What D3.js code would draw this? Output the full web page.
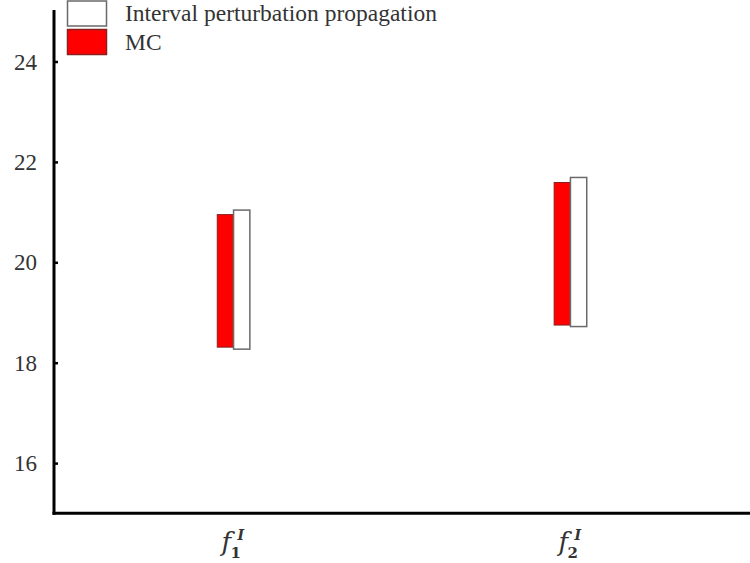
<!DOCTYPE html>
<html>
<head>
<meta charset="utf-8">
<script src="https://cdn.jsdelivr.net/npm/d3@7"></script>
<style>
  html, body { margin: 0; padding: 0; background: #fff; }
  svg { display: block; }
</style>
</head>
<body>
<svg id="chart" width="750" height="563"></svg>
<script>
// ---- data ----
const categories = ["f1", "f2"];
const subscripts = ["1", "2"];
const seriesNames = ["MC", "Interval perturbation propagation"];
const mcLower = [18.31, 18.75];
const mcUpper = [20.95, 21.59];
const ippLower = [18.27, 18.72];
const ippUpper = [21.04, 21.69];
const yTicks = [16, 18, 20, 22, 24];

const svg = d3.select("#chart");
const W = 750, H = 563;
const x0 = 54, yBottom = 513.3;

const y = d3.scaleLinear().domain([15, 25]).range([yBottom, 11.3]);
const x = d3.scalePoint().domain(categories).range([x0, W]).padding(0.533);
const barW = 16.3;

const textColor = "#333";
const serif = "'Liberation Serif', 'Times New Roman', serif";

// bars
const mcData = categories.map((c, i) => ({c, lo: mcLower[i], hi: mcUpper[i]}));
const ippData = categories.map((c, i) => ({c, lo: ippLower[i], hi: ippUpper[i]}));

svg.append("g").selectAll("rect").data(mcData).join("rect")
  .attr("x", d => x(d.c) - barW)
  .attr("y", d => y(d.hi))
  .attr("width", barW)
  .attr("height", d => y(d.lo) - y(d.hi))
  .attr("fill", "#ff0000")
  .attr("stroke", "#8a2020")
  .attr("stroke-width", 1);

svg.append("g").selectAll("rect").data(ippData).join("rect")
  .attr("x", d => x(d.c))
  .attr("y", d => y(d.hi))
  .attr("width", barW)
  .attr("height", d => y(d.lo) - y(d.hi))
  .attr("fill", "#ffffff")
  .attr("stroke", "#6a6a6a")
  .attr("stroke-width", 1.5);

// y axis
const yAxis = d3.axisRight(y).tickValues(yTicks).tickSize(4).tickFormat(d3.format("d"));
const gy = svg.append("g").attr("transform", `translate(${x0},0)`).call(yAxis);
gy.select(".domain").remove();
gy.selectAll(".tick line").attr("stroke", "#000").attr("stroke-width", 2.5);
gy.selectAll(".tick text")
  .attr("x", -17).attr("text-anchor", "end")
  .attr("fill", textColor)
  .style("font-family", serif).style("font-size", "23px")
  .attr("dy", "0.33em");
svg.append("line").attr("x1", x0).attr("x2", x0).attr("y1", 10).attr("y2", yBottom + 1.5)
  .attr("stroke", "#000").attr("stroke-width", 3);

// x axis
const xAxis = d3.axisBottom(x).tickSize(0).tickFormat("");
const gx = svg.append("g").attr("transform", `translate(0,${yBottom})`).call(xAxis);
gx.select(".domain").remove();
svg.append("line").attr("x1", x0 - 1.5).attr("x2", W).attr("y1", yBottom).attr("y2", yBottom)
  .attr("stroke", "#000").attr("stroke-width", 3);

// x labels: f_k^I
const labels = svg.append("g").selectAll("g").data(categories).join("g")
  .attr("transform", d => `translate(${x(d)},0)`);
labels.append("text")
  .attr("x", -12).attr("y", 551)
  .attr("fill", textColor)
  .style("font-family", "'DejaVu Serif', serif").style("font-style", "italic")
  .style("font-size", "26px")
  .text("f");
labels.append("text")
  .attr("x", -3).attr("y", 558)
  .attr("fill", textColor)
  .style("font-family", "'DejaVu Serif', serif").style("font-weight", "bold")
  .style("font-size", "15px")
  .text((d, i) => subscripts[i]);
labels.append("text")
  .attr("x", 4).attr("y", 540)
  .attr("fill", textColor)
  .style("font-family", "'DejaVu Serif', serif").style("font-style", "italic").style("font-weight", "bold")
  .style("font-size", "14px")
  .text("I");

// legend
const legend = svg.append("g");
const legItems = [
  {name: seriesNames[1], fill: "#ffffff", stroke: "#6a6a6a", y: 1, ty: 21},
  {name: seriesNames[0], fill: "#ff0000", stroke: "#8a2020", y: 29.5, ty: 50}
];
legend.selectAll("rect").data(legItems).join("rect")
  .attr("x", 67.5).attr("y", d => d.y)
  .attr("width", 39).attr("height", 25)
  .attr("fill", d => d.fill).attr("stroke", d => d.stroke).attr("stroke-width", 1.5);
legend.selectAll("text").data(legItems).join("text")
  .attr("x", 125).attr("y", d => d.ty)
  .attr("fill", textColor)
  .style("font-family", serif).style("font-size", "23.5px")
  .text(d => d.name);
</script>
</body>
</html>
